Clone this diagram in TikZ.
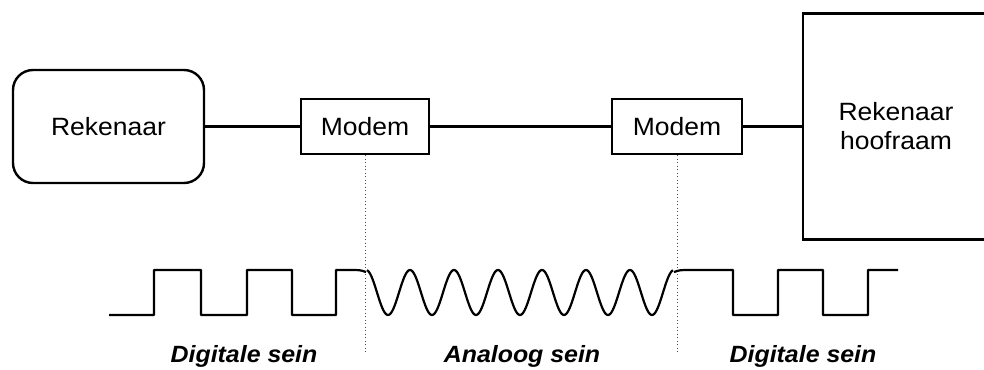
\documentclass[tikz,border=0pt]{standalone}
\usepackage{fontspec}
\setmainfont{Liberation Sans}
\newfontfamily\widesans[FakeStretch=1.06]{Liberation Sans}
\begin{document}
\begin{tikzpicture}[x=1pt,y=-1pt,
  boxline/.style={line width=2.4pt},
  unit/.style={draw,boxline,inner sep=0pt,font=\widesans\fontsize{25}{29}\selectfont,align=center},
  wire/.style={line width=2.4pt},
  guide/.style={draw=black!70,line width=1pt,dash pattern=on 1pt off 2.5pt},
  signal/.style={line width=2.2pt,line join=round},
  caption/.style={font=\widesans\fontsize{23.5}{27}\selectfont\bfseries\itshape,anchor=base}]
\useasboundingbox (0,0) rectangle (984,369);
\clip (0,0) rectangle (984,369);

% equipment
\node[unit,rounded corners=20pt,minimum width=191pt,minimum height=113pt]
  (pc) at (108.5,126.5) {Rekenaar};
\node[unit,minimum width=128pt,minimum height=55pt] (modemA) at (365,126.5) {Modem};
\node[unit,minimum width=130pt,minimum height=55pt] (modemB) at (677,126.5) {Modem};
\node[unit,minimum width=186pt,minimum height=226pt] (host) at (896,126.5)
  {Rekenaar\\hoofraam};

% links
\draw[wire] (pc.east) -- (modemA.west);
\draw[wire] (modemA.east) -- (modemB.west);
\draw[wire] (modemB.east) -- (host.west);

% dotted dividers below each modem
\coordinate (endA) at (365,352);
\coordinate (endB) at (677,352);
\draw[guide] (modemA.south) -- (endA);
\draw[guide] (modemB.south) -- (endB);

% digital part before the first modem
\draw[signal] (109,315) -- (154,315) -- (154,270) -- (201,270) -- (201,315)
  -- (247,315) -- (247,270) -- (292,270) -- (292,315) -- (336,315)
  -- (336,270) -- (350,270)
  .. controls (360,270) .. (366,272);
% analogue part between the modems
\draw[signal] plot[domain=0.02:6.98,samples=280,smooth]
  ({366+44*\x},{292.5-22.5*cos(360*\x)});
% digital part after the second modem
\draw[signal] (674,272) .. controls (680,270) .. (690,270) -- (733,270)
  -- (733,315) -- (778,315) -- (778,270) -- (823,270) -- (823,315)
  -- (868,315) -- (868,270) -- (898,270);

% captions
\node[caption] (capA) at (244,362) {Digitale sein};
\node[caption] (capB) at (522,362) {Analoog sein};
\node[caption] (capC) at (803,362) {Digitale sein};
\end{tikzpicture}
\end{document}
